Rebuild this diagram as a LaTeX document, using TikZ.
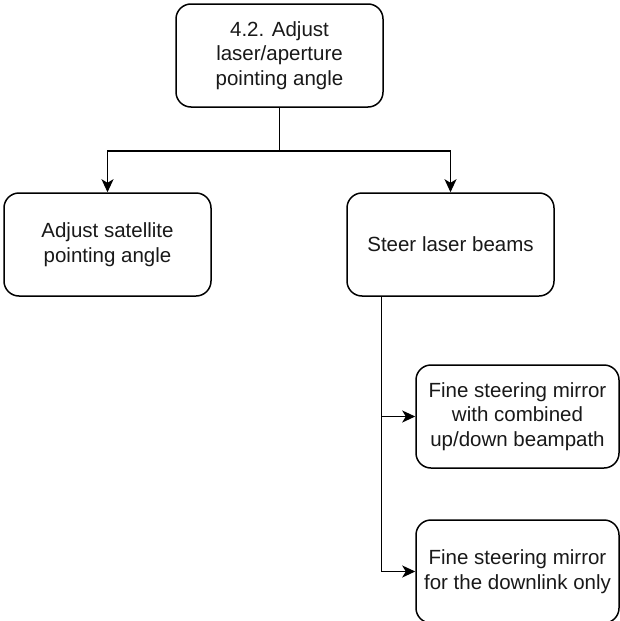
\documentclass[tikz,border=0pt]{standalone}
\usepackage{fontspec}
\setmainfont{Liberation Sans}
\usetikzlibrary{arrows.meta,calc}
\begin{document}
\begin{tikzpicture}[x=1pt,y=-1pt,
  box/.style={draw=black, line width=1.5pt, rounded corners=15pt, fill=white,
    minimum width=207pt, minimum height=103pt, align=center, inner sep=0pt,
    text=black!90, font=\fontsize{20.5pt}{24.8pt}\selectfont},
  subbox/.style={box, minimum width=203pt},
  arr/.style={draw=black, line width=1.5pt,
    -{Stealth[length=13pt, width=12pt, inset=3.5pt]}}
]
\useasboundingbox (0,0) rectangle (620,621);

% task nodes
\node[box] (top) at (279.5,55.5) {4.2. Adjust\\laser/aperture\\pointing angle};
\node[box] (sat) at (107.5,244.5) {Adjust satellite\\pointing angle};
\node[box] (steer) at (450.5,244.5) {Steer laser beams};
\node[subbox] (fsmA) at (517.5,416.5) {Fine steering mirror\\with combined\\up/down beampath};
\node[subbox] (fsmB) at (517.5,571.5) {Fine steering mirror\\for the downlink only};

% branch from the top task
\draw[arr] (top.south) -- ++(0,43) -| (sat.north);
\draw[arr] (top.south) -- ++(0,43) -| (steer.north);

% branch from the steering task
\coordinate (trunk) at ($(steer.south west)+(35,0)$);
\draw[arr] (trunk) |- (fsmA.west);
\draw[arr] (trunk) |- (fsmB.west);
\end{tikzpicture}
\end{document}
